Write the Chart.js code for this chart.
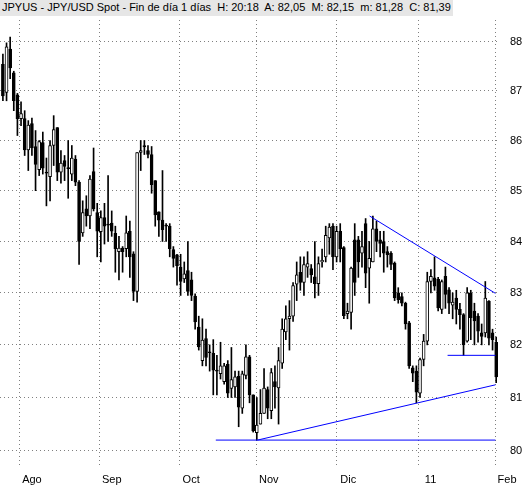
<!DOCTYPE html>
<html>
<head>
<meta charset="utf-8">
<script src="https://cdn.jsdelivr.net/npm/chart.js@4"></script>
<style>
  body { margin: 0; background: #fff; }
  #wrap { position: relative; width: 529px; height: 487px; }
  #title { position: absolute; left: 0; top: 0; height: 16px; padding: 0 2px; background: #e6e6e6;
           font: 11px "Liberation Sans", Arial, sans-serif; line-height: 15px; color: #000; white-space: pre; }
</style>
</head>
<body>
<div id="wrap">
  <canvas id="myChart" width="529" height="487"></canvas>
  <div id="title">JPYUS - JPY/USD Spot - Fin de día 1 días  H: 20:18  A: 82,05  M: 82,15  m: 81,28  C: 81,39</div>
</div>
<script>
const opens = [
  87.54,86.97,87.85,87.37,86.92,86.44,86.44,85.81,86.34,85.88,85.42,85.96,85.35,85.28,85.9,86.26,85.37,85.6,85.44,85.33,85.63,85.17,84.17,84.64,84.5,85.38,84.57,84.19,84.47,84.32,84.36,84.16,83.8,83.87,83.86,84.2,83.76,83.03,85.76,85.9,85.8,85.72,85.2,84.58,84.42,84.3,84.3,83.84,83.74,
  83.5,83.27,83.43,83.25,82.94,82.34,81.7,82.12,81.85,81.84,81.5,81.45,81.3,81.63,81.17,81.2,81.4,80.8,81.42,81.77,81.05,80.34,80.5,80.7,81.15,80.75,81.3,81.18,81.65,82.25,82.5,82.55,83.17,83.4,83.2,83.5,83.47,83.31,83.18,83.6,83.7,84.07,84.3,83.7,84.2,83.88,
  82.6,
  82.62,84.03,84.03,83.77,84.35,83.48,83.6,84.25,84.03,84.0,83.8,83.77,83.58,83.0,82.93,82.8,82.42,81.56,81.5,81.08,81.72,82.07,83.22,83.29,83.26,82.68,83.32,83.06,82.76,82.9,82.68,82.58,82.07,83.0,82.65,82.55,82.23,82.23,82.84,82.23,82.05
];
const closes = [
  86.9,87.9,87.47,86.8,86.44,86.54,85.81,86.31,85.85,85.52,85.98,85.45,85.35,85.9,86.22,85.37,85.55,85.48,85.44,85.65,85.17,84.0,84.57,84.5,85.23,84.64,84.2,84.47,84.3,84.32,84.2,83.86,83.87,83.8,84.17,83.7,83.03,85.76,85.8,85.87,85.72,85.12,84.52,84.42,84.23,84.3,83.86,83.67,83.53,
  83.22,83.37,83.03,82.95,82.44,81.96,82.09,81.76,81.85,81.52,81.5,81.6,81.6,81.08,81.34,81.39,80.82,81.45,81.77,81.05,80.37,80.48,80.7,81.18,80.8,81.47,81.2,81.7,82.3,82.5,82.55,83.14,83.35,83.2,83.55,83.57,83.35,83.18,83.57,83.63,84.12,84.28,83.7,84.2,83.86,82.56,
  82.65,
  83.48,83.2,83.6,83.9,83.38,83.67,84.25,84.0,83.96,83.77,83.74,83.55,82.9,82.87,82.8,82.4,81.6,81.46,81.1,81.72,82.07,83.22,83.32,83.13,82.71,83.22,82.97,82.8,82.82,82.68,82.58,82.0,83.0,82.52,82.46,82.26,82.16,82.9,82.13,82.1,81.39
];
const highs = [
  87.75,87.98,88.1,87.4,86.95,86.78,86.6,86.4,86.45,86.2,86.0,86.17,85.65,86.0,86.5,86.26,85.8,85.7,86.0,85.9,85.7,85.2,84.8,84.9,85.3,85.85,84.75,84.6,84.75,85.3,84.6,84.3,84.1,83.9,84.5,84.4,83.8,85.76,86.0,86.0,85.9,85.88,85.2,84.58,85.4,84.35,84.35,83.9,83.75,
  83.75,83.6,84.0,83.4,82.98,82.55,82.5,82.3,82.0,82.1,81.8,82.05,81.65,81.7,81.95,81.5,81.5,81.5,82.0,81.8,81.05,81.0,81.15,81.55,81.2,81.55,81.6,81.95,82.5,82.75,82.85,83.2,83.6,83.7,83.7,83.8,83.55,84.0,83.7,83.85,84.3,84.35,84.35,84.3,84.35,83.9,
  82.8,
  83.5,84.35,84.1,84.2,84.45,84.0,84.5,84.4,84.2,84.2,83.9,83.8,83.6,83.1,83.0,82.82,82.45,81.6,81.6,81.75,82.2,83.4,83.45,83.7,83.3,83.25,83.5,83.1,83.0,83.05,82.8,82.6,83.1,83.05,82.8,82.6,82.4,83.22,82.85,82.3,82.15
];
const lows = [
  86.8,86.8,87.25,86.6,86.1,86.3,85.7,85.4,85.7,85.0,85.3,85.33,84.7,84.8,85.5,85.2,85.15,85.2,84.85,85.2,85.1,83.55,84.1,84.3,84.25,84.6,83.7,83.6,83.95,84.0,84.1,83.4,83.25,83.4,83.7,83.3,82.85,82.82,85.4,85.72,85.65,84.95,84.3,84.1,84.0,84.0,83.7,83.5,83.15,
  82.95,83.2,82.95,82.85,82.3,81.9,81.6,81.6,81.5,81.05,81.05,81.35,81.25,81.0,81.0,81.0,80.45,80.7,81.35,80.9,80.35,80.2,80.5,80.7,80.6,80.6,80.8,80.5,81.55,82.1,81.9,82.45,82.85,83.05,82.95,83.3,83.2,82.9,82.95,83.5,83.6,83.75,83.45,83.6,83.6,82.5,
  82.5,
  82.3,82.95,83.3,83.5,83.1,82.8,83.6,83.8,83.7,83.4,83.5,83.45,82.85,82.8,82.75,82.3,81.55,81.3,80.9,81.0,81.6,82.0,83.0,83.05,82.65,82.6,82.7,82.6,82.5,82.4,82.3,81.8,82.05,82.1,82.0,82.05,82.0,82.15,82.0,81.9,81.28
];
// month starts as bar positions, and their labels
const monthTicks = [4.7, 26.7, 48.6, 70, 91.9, 114.6, 135.7];
const monthLabels = ['Ago', 'Sep', 'Oct', 'Nov', 'Dic', '11', 'Feb'];
const priceTicks = [80, 81, 82, 83, 84, 85, 86, 87, 88];
// drawn trend lines: [x1, y1, x2, y2]
const trendLines = [
  [58.7, 80.2, 135.8, 80.2],
  [70.2, 80.2, 135.8, 81.24],
  [101.1, 84.5, 135.8, 82.99],
  [122.6, 81.8, 135.8, 81.8]
];

const wicks = lows.map((l, i) => ({ x: i, y: [l, highs[i]] }));
const bodies = opens.map((o, i) => ({ x: i, y: [o, closes[i]] }));
const bodyColors = opens.map((o, i) => closes[i] > o ? '#ffffff' : '#000000');

const lineSets = trendLines.map(t => ({
  type: 'line',
  data: [{ x: t[0], y: t[1] }, { x: t[2], y: t[3] }],
  borderColor: '#0000ff',
  borderWidth: 1,
  pointRadius: 0,
  order: 0
}));

const grid = { color: '#808080', lineWidth: 1, drawTicks: false, offset: false };

new Chart(document.getElementById('myChart'), {
  type: 'bar',
  data: {
    datasets: [
      { data: wicks, backgroundColor: '#000', barThickness: 1, grouped: false, order: 2 },
      { data: bodies, backgroundColor: bodyColors, borderColor: '#000', borderWidth: 1,
        borderSkipped: false, barThickness: 3, minBarLength: 1, grouped: false, order: 1 }
    ].concat(lineSets)
  },
  options: {
    responsive: false,
    animation: false,
    layout: { padding: { top: 20, left: 0, right: 0, bottom: 0 } },
    plugins: { legend: { display: false }, tooltip: { enabled: false } },
    scales: {
      x: {
        type: 'linear', min: -0.8, max: 136.5, offset: false,
        grid: grid,
        border: { display: false, dash: [1, 3] },
        afterBuildTicks: s => { s.ticks = monthTicks.map(v => ({ value: v })); },
        afterFit: s => { s.height = 19; },
        ticks: {
          autoSkip: false, maxRotation: 0, padding: 5, labelOffset: 12, color: '#000',
          font: { family: 'Liberation Sans', size: 11 },
          callback: (v, i) => monthLabels[i]
        }
      },
      y: {
        type: 'logarithmic', position: 'right', min: 79.68, max: 88.45,
        grid: grid,
        border: { display: false, dash: [1, 3] },
        afterBuildTicks: s => { s.ticks = priceTicks.map(v => ({ value: v })); },
        afterFit: s => { s.width = 31; },
        ticks: { padding: 12, color: '#000', font: { family: 'Liberation Sans', size: 11 },
                 callback: v => String(v) }
      }
    }
  }
});
</script>
</body>
</html>
